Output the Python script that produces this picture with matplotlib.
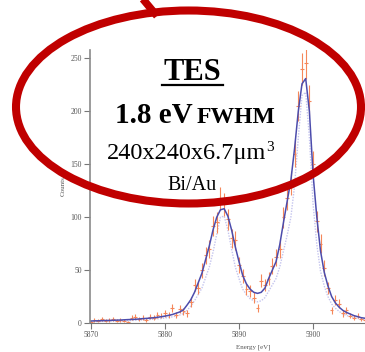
import numpy as np
import matplotlib
matplotlib.use("Agg")
from matplotlib import pyplot as plt
from matplotlib.patches import Ellipse

# energy grid (eV), fitted curve, narrower fit, measured counts
energy = np.arange(5870.0, 5907.01, 0.5)
fit = [1.9, 2.0, 2.1, 2.2, 2.35, 2.45, 2.55, 2.7, 2.8, 3.0,
       3.2, 3.35, 3.5, 3.8, 4.1, 4.35, 4.6, 5.0, 5.4, 5.9,
       6.5, 7.2, 8.0, 9.2, 10.4, 12.4, 17, 22, 29, 38,
       47, 60, 73, 88, 100, 107, 108, 101, 88, 72,
       58, 45, 37, 32, 29, 28, 29, 33, 42, 50,
       58, 74, 95, 115, 135, 165, 200, 226, 231, 200,
       140, 100, 68, 48, 35, 25, 19, 15, 12, 10,
       8.5, 7, 6, 5, 4.5]
fit_narrow = [1.2, 1.3, 1.4, 1.5, 1.6, 1.7, 1.8, 1.9, 2.0, 2.1,
              2.2, 2.4, 2.5, 2.7, 2.9, 3.1, 3.3, 3.6, 3.9, 4.2,
              4.7, 5.2, 5.8, 6.6, 7.5, 8.9, 12, 16, 21, 27,
              33, 43, 53, 67, 84, 100, 101, 88, 70, 53,
              42, 32, 27, 23, 21, 20, 21, 24, 30, 36,
              42, 53, 68, 83, 100, 130, 175, 215, 218, 175,
              112, 74, 49, 35, 25, 18, 14, 11, 8.6, 7.2,
              6.1, 5, 4.3, 3.6, 3.2]
counts = [1, 3, 2, 4, 2, 3, 4, 2, 3, 2,
          1, 5, 6, 4, 5, 3, 6, 5, 8, 7,
          9, 8, 14, 8, 13, 11, 9, 20, 36, 33,
          50, 64, 70, 92, 95, 118, 112, 98, 80, 78,
          55, 44, 32, 30, 24, 14, 40, 36, 42, 54,
          62, 70, 100, 118, 132, 160, 205, 240, 246, 210,
          150, 96, 75, 52, 33, 12, 22, 18, 9, 12,
          7, 5, 7, 4, 3]

xticks = [5870, 5880, 5890, 5900]
yticks = [0, 50, 100, 150, 200, 250]

W, H = 365, 352
fig = plt.figure(figsize=(W / 100, H / 100), dpi=100)

ax = fig.add_axes([90 / W, 1 - 323 / H, (W - 90) / W, (323 - 50) / H])
ax.plot(energy, fit_narrow, color="#c4c4ee", lw=1.0, ls=(0, (1, 1)))
ax.errorbar(energy, counts, yerr=np.sqrt(counts), xerr=0.25, fmt="none",
            ecolor="#f5875a", elinewidth=0.8, capsize=0)
ax.plot(energy, fit, color="#4c4cac", lw=1.1)
ax.set_xlim(5869.9, 5907)
ax.set_ylim(0, 258)
for s in ["top", "right"]:
    ax.spines[s].set_visible(False)
ax.spines["left"].set_color("#8a8a8a")
ax.spines["left"].set_linewidth(1.2)
ax.spines["bottom"].set_color("#777777")
ax.spines["bottom"].set_linestyle((0, (2, 1)))
ax.set_xticks(xticks)
ax.set_yticks(yticks)
ax.set_xticklabels([str(t) for t in xticks], family="Liberation Serif",
                   fontsize=5.5, color="#555555")
ax.set_yticklabels([str(t) for t in yticks], family="Liberation Serif",
                   fontsize=5.5, color="#555555")
ax.tick_params(axis="both", direction="out", length=4, width=0.8,
               color="#777777", pad=2)
ax.set_ylabel("Counts", family="Liberation Serif", fontsize=5,
              color="#555555", labelpad=3)

# overlay in pixel coordinates
ov = fig.add_axes([0, 0, 1, 1])
ov.set_xlim(0, W)
ov.set_ylim(H, 0)
ov.axis("off")
ov.patch.set_alpha(0)

red = "#c00000"
ov.plot([142, 157], [-2, 16], color=red, lw=5.5, solid_capstyle="butt")
ov.add_patch(Ellipse((188.5, 107), 345, 193, fill=False, ec=red, lw=5.8))

serif = "Liberation Serif"
ov.text(253, 347, "Energy [eV]", family=serif, fontsize=5, color="#555555",
        ha="center", va="center")
ov.text(192.5, 80, "TES", family=serif, fontsize=22, weight="bold",
        ha="center", va="baseline")
ov.plot([162, 223], [84.5, 84.5], color="black", lw=1.6)
ov.text(193, 123, "1.8 eV", family=serif, fontsize=21, weight="bold",
        ha="right", va="baseline")
ov.text(197, 123, "FWHM", family=serif, fontsize=17, weight="bold",
        ha="left", va="baseline")
ov.text(107, 159, "240x240x6.7\u03bcm", family=serif, fontsize=17.5,
        ha="left", va="baseline")
ov.text(266, 151, "3", family=serif, fontsize=11, ha="left", va="baseline")
ov.text(192, 190, "Bi/Au", family=serif, fontsize=14.5,
        ha="center", va="baseline")

fig.savefig("out.png", dpi=100)
